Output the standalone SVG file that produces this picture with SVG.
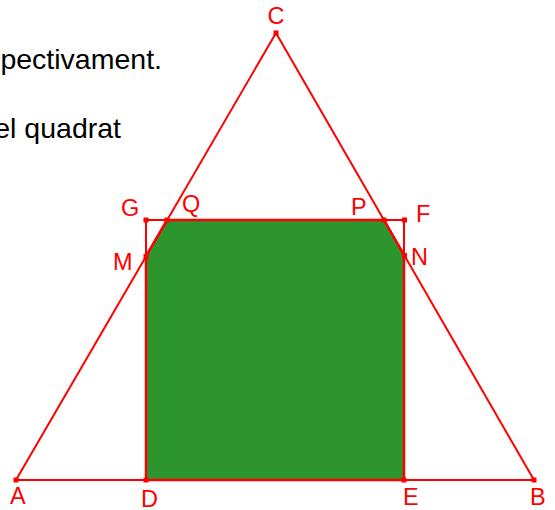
<svg xmlns="http://www.w3.org/2000/svg" width="555" height="510" viewBox="0 0 555 510">
<style>
.t{font-family:"Liberation Sans",Arial,sans-serif;font-size:28.5px;fill:#000}
.l{font-family:"Liberation Sans",Arial,sans-serif;font-size:23.5px;fill:#ff0000}
.s{stroke:#ff0000;stroke-width:2;fill:none}
.p{fill:#ff0000}
</style>
<rect width="555" height="510" fill="#fff"/>
<g id="text">
<text class="t" x="162" y="69" text-anchor="end">pectivament.</text>
<text class="t" x="121" y="138" text-anchor="end">el quadrat</text>
</g>
<g id="region">
<polygon points="146,480 146,256 167,220 384,220 404,255 404,480" fill="#2d952d" stroke="#ff0000" stroke-width="2.5"/>
</g>
<g id="connectors">
<line class="s" x1="16" y1="480" x2="534" y2="480"/>
<line class="s" x1="16" y1="480" x2="276" y2="33"/>
<line class="s" x1="276" y1="33" x2="534" y2="480"/>
<polyline class="s" points="146,480 146,220 404,220 404,480"/>
</g>
<g id="A"><rect class="p" x="13.5" y="477.5" width="5" height="5"/><text class="l" x="10" y="504">A</text></g>
<g id="B"><rect class="p" x="531.5" y="477.5" width="5" height="5"/><text class="l" x="530" y="505">B</text></g>
<g id="C"><rect class="p" x="273.5" y="30.5" width="5" height="5"/><text class="l" x="276" y="24" text-anchor="middle">C</text></g>
<g id="D"><rect class="p" x="143.5" y="477.5" width="5" height="5"/><text class="l" x="141" y="507">D</text></g>
<g id="E"><rect class="p" x="401.5" y="477.5" width="5" height="5"/><text class="l" x="403" y="505">E</text></g>
<g id="F"><rect class="p" x="402" y="217.5" width="5" height="5"/><text class="l" x="416" y="222">F</text></g>
<g id="G"><rect class="p" x="143.5" y="217.5" width="5" height="5"/><text class="l" x="121" y="216">G</text></g>
<g id="M"><rect class="p" x="143.5" y="254" width="5" height="5"/><text class="l" x="113" y="270">M</text></g>
<g id="N"><rect class="p" x="402" y="253" width="5" height="5"/><text class="l" x="411" y="265">N</text></g>
<g id="P"><rect class="p" x="381.5" y="217.5" width="5" height="5"/><text class="l" x="351" y="215">P</text></g>
<g id="Q"><rect class="p" x="164.5" y="217.5" width="5" height="5"/><text class="l" x="182" y="212">Q</text></g>
</svg>
